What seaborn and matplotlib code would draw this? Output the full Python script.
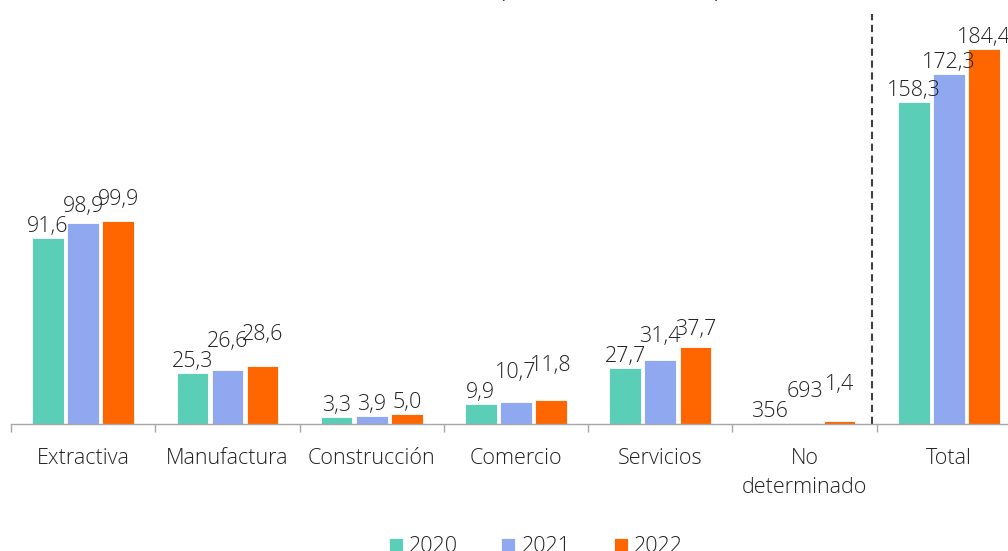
import matplotlib
matplotlib.use("Agg")
import matplotlib.pyplot as plt
import seaborn as sns
import pandas as pd
import numpy as np

# Sector values by year
sectors = ["Extractiva", "Manufactura", "Construcción", "Comercio",
           "Servicios", "No\ndeterminado", "Total"]
years = ["2020", "2021", "2022"]
values_2020 = [91.6, 25.3, 3.3, 9.9, 27.7, 0.356, 158.3]
values_2021 = [98.9, 26.6, 3.9, 10.7, 31.4, 0.693, 172.3]
values_2022 = [99.9, 28.6, 5.0, 11.8, 37.7, 1.4, 184.4]
colors = ["#5BCEB8", "#8FA8F0", "#FF6600"]
title_text = "(miles de millones de US$)"

sns.set_theme(style="white")
plt.rcParams["font.family"] = ["Open Sans", "DejaVu Sans"]
TEXT = "#222222"
FS = 15.5

df = pd.DataFrame({
    "sector": sectors * 3,
    "year": [y for y in years for _ in sectors],
    "value": values_2020 + values_2021 + values_2022,
})

W, H, DPI = 1008, 551, 100
fig = plt.figure(figsize=(W / DPI, H / DPI), dpi=DPI)
ax = fig.add_axes([11 / W, 127 / H, 1010 / W, 423 / H])

sns.barplot(data=df, x="sector", y="value", hue="year", order=sectors,
            hue_order=years, palette=colors, width=0.73, gap=0.1,
            edgecolor="white", linewidth=0.6, saturation=1, ax=ax,
            legend=True)

ax.set_xlim(-0.5, len(sectors) - 0.5)
ax.set_ylim(0, 208)
ax.set_xlabel("")
ax.set_ylabel("")
ax.set_yticks([])
for s in ["top", "right", "left"]:
    ax.spines[s].set_visible(False)
ax.spines["bottom"].set_color("#A6A6A6")
ax.spines["bottom"].set_linewidth(1.0)

# Category labels centred, tick marks on category boundaries
ax.set_xticks(range(len(sectors)))
ax.set_xticklabels(sectors, fontsize=FS, color=TEXT, fontweight="light",
                   linespacing=1.55)
ax.tick_params(axis="x", which="major", length=0, pad=17)
ax.set_xticks(np.arange(-0.5, len(sectors)), minor=True)
ax.tick_params(axis="x", which="minor", length=6, width=1.0,
               color="#A6A6A6", bottom=True)

# Separator before the total
ax.axvline(5.465, ymin=0, ymax=0.97, color="#404040", lw=1.5,
           ls=(0, (3.5, 2.2)), clip_on=False)


def fmt(v):
    if v < 1:
        return f"{round(v * 1000)}"
    return f"{v:.1f}".replace(".", ",")


# Value labels: a label that collides with its left neighbour is lifted,
# fully above a resting neighbour, a little above a lifted one
fig.canvas.draw()
renderer = fig.canvas.get_renderer()
pad_px = 1
tol_px = -3
all_values = [values_2020, values_2021, values_2022]
inv = ax.transData.inverted()
for ci in range(len(sectors)):
    prev_bb = None
    prev_lifted = False
    for k, cont in enumerate(ax.containers):
        bar = cont.patches[ci]
        v = all_values[k][ci]
        x = bar.get_x() + bar.get_width() / 2
        top_disp = ax.transData.transform((x, v))
        t = ax.text(x, v, fmt(v), ha="center", va="bottom", fontsize=FS,
                    color=TEXT, fontweight="light", clip_on=False)
        t.set_position((x, inv.transform((top_disp[0],
                                          top_disp[1] + pad_px))[1]))
        bb = t.get_window_extent(renderer)
        lifted = False
        if prev_bb is not None:
            h_overlap = min(bb.x1, prev_bb.x1) - max(bb.x0, prev_bb.x0)
            v_overlap = min(bb.y1, prev_bb.y1) - max(bb.y0, prev_bb.y0)
            if h_overlap > tol_px and v_overlap > 0:
                if prev_lifted:
                    new_y0 = max(bb.y0, prev_bb.y0 + 7)
                else:
                    new_y0 = prev_bb.y1 - 1
                t.set_position((x, inv.transform((top_disp[0], new_y0))[1]))
                bb = t.get_window_extent(renderer)
                lifted = True
        prev_bb = bb
        prev_lifted = lifted

# Legend
handles, labels = ax.get_legend_handles_labels()
ax.legend(handles, labels, loc="center", ncol=3, frameon=False,
          bbox_to_anchor=(536 / W, 4 / H), bbox_transform=fig.transFigure,
          fontsize=FS, handlelength=0.65, handleheight=0.65,
          handletextpad=0.3, columnspacing=2.0,
          labelcolor=TEXT)
for txt in ax.get_legend().get_texts():
    txt.set_fontweight("light")

# Title sits above the visible area
fig.text(610 / W, 1 + 2 / H, title_text, ha="center", va="baseline",
         fontsize=13, color=TEXT)

fig.savefig("out.png", dpi=DPI)
